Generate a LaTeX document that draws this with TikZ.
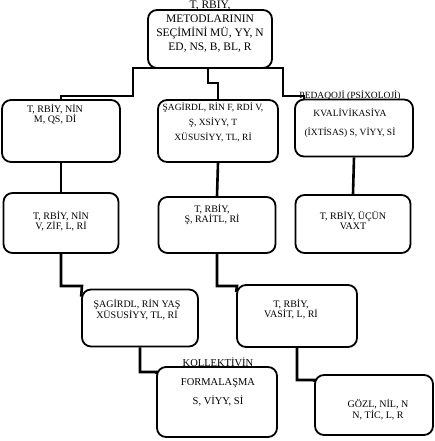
\documentclass[tikz,border=0pt]{standalone}
\usepackage{fontspec}
\setmainfont{Liberation Serif}
\usetikzlibrary{positioning}
\tikzset{
  box/.style={draw=black, line width=1.8pt, rounded corners=9pt, fill=white, inner sep=0pt},
  txt/.style={align=center, inner sep=0pt, anchor=north},
  link/.style={draw=black, line width=2.6pt}
}

\begin{document}
\begin{tikzpicture}[x=1pt, y=-1pt]
\useasboundingbox (0,0) rectangle (435,441);
% boxes
\node[box, minimum width=124pt, minimum height=58pt] (top) at (210,39) {};
\node[box, minimum width=118pt, minimum height=62pt] (qayda) at (61,131) {};
\node[box, minimum width=120pt, minimum height=62pt] (sagird) at (218,131) {};
\node[box, minimum width=118pt, minimum height=57pt] (pedaqoq) at (354,128) {};
\node[box, minimum width=115pt, minimum height=60pt] (vezife) at (61,223) {};
\node[box, minimum width=117pt, minimum height=56pt] (serait) at (217,225) {};
\node[box, minimum width=115pt, minimum height=58pt] (vaxt) at (353,224) {};
\node[box, minimum width=116pt, minimum height=57pt] (yas) at (140,318) {};
\node[box, minimum width=120pt, minimum height=62pt] (vasite) at (297,316) {};
\node[box, minimum width=120pt, minimum height=70pt] (kollektiv) at (217,402) {};
\node[box, minimum width=118pt, minimum height=60pt] (netice) at (374,405) {};
% texts
\node[txt, font=\fontsize{11.5}{14}\selectfont] (ttop) at (210,-1.5) {T, RBİY,\\METODLARININ\\SEÇİMİNİ MÜ, YY, N\\ED, NS, B, BL, R};
\node[txt, font=\fontsize{10}{10}\selectfont] (tqayda) at (55,104) {T, RBİY, NİN\\M, QS, Dİ};
\node[txt, font=\fontsize{9.5}{15}\selectfont] (tsagird) at (213,102.5) {ŞAGİRDL, RİN F, RDİ V,\\Ş, XSİYY, T\\XÜSUSİYY, TL, Rİ};
\node[txt, font=\fontsize{9.5}{18.5}\selectfont] (tpedaqoq) at (350,90) {PEDAQOJİ (PSİXOLOJİ)\\KVALİVİKASİYA\\(İXTİSAS) S, VİYY, Sİ};
\node[txt, font=\fontsize{10}{10}\selectfont] (tvezife) at (61,211) {T, RBİY, NİN\\V, ZİF, L, Rİ};
\node[txt, font=\fontsize{10}{10}\selectfont] (tserait) at (212,204) {T, RBİY,\\Ş, RAİTL, Rİ};
\node[txt, font=\fontsize{10}{10}\selectfont] (tvaxt) at (353,211) {T, RBİY, ÜÇÜN\\VAXT};
\node[txt, font=\fontsize{10}{9}\selectfont] (tyas) at (137,299) {ŞAGİRDL, RİN YAŞ\\XÜSUSİYY, TL, Rİ};
\node[txt, font=\fontsize{10}{10}\selectfont] (tvasite) at (291,299) {T, RBİY,\\VASİT, L, Rİ};
\node[txt, font=\fontsize{10.5}{19}\selectfont] (tkollektiv) at (218,358) {KOLLEKTİVİN\\FORMALAŞMA\\S, VİYY, Sİ};
\node[txt, font=\fontsize{10}{9}\selectfont] (tnetice) at (378,399) {GÖZL, NİL, N\\N, TİC, L, R};
% connectors
\coordinate (hubL) at (133,68);
\coordinate (hubR) at (283,68);
\draw[link] (qayda.north) |- (133,96) -- (hubL) -- (hubR) -- (283,96) -| ([xshift=10pt]pedaqoq.north west);
\draw[link] (208,68) -- (208,83) -| (sagird.north);
\draw[link] (qayda.south) -- (vezife.north);
\draw[link] (sagird.south) -- (serait.north);
\draw[link] (pedaqoq.south) -- (vaxt.north);
\draw[link] (vezife.south) |- (82,286) -- ([yshift=-8pt]yas.north west);
\draw[link] (serait.south) |- (237,286) -- ([yshift=-8pt]vasite.north west);
\draw[link] (yas.south) |- (157,372) -- ([yshift=-8pt]kollektiv.north west);
\draw[link] (vasite.south) |- (315,380) -- ([yshift=-8pt]netice.north west);
\end{tikzpicture}
\end{document}
